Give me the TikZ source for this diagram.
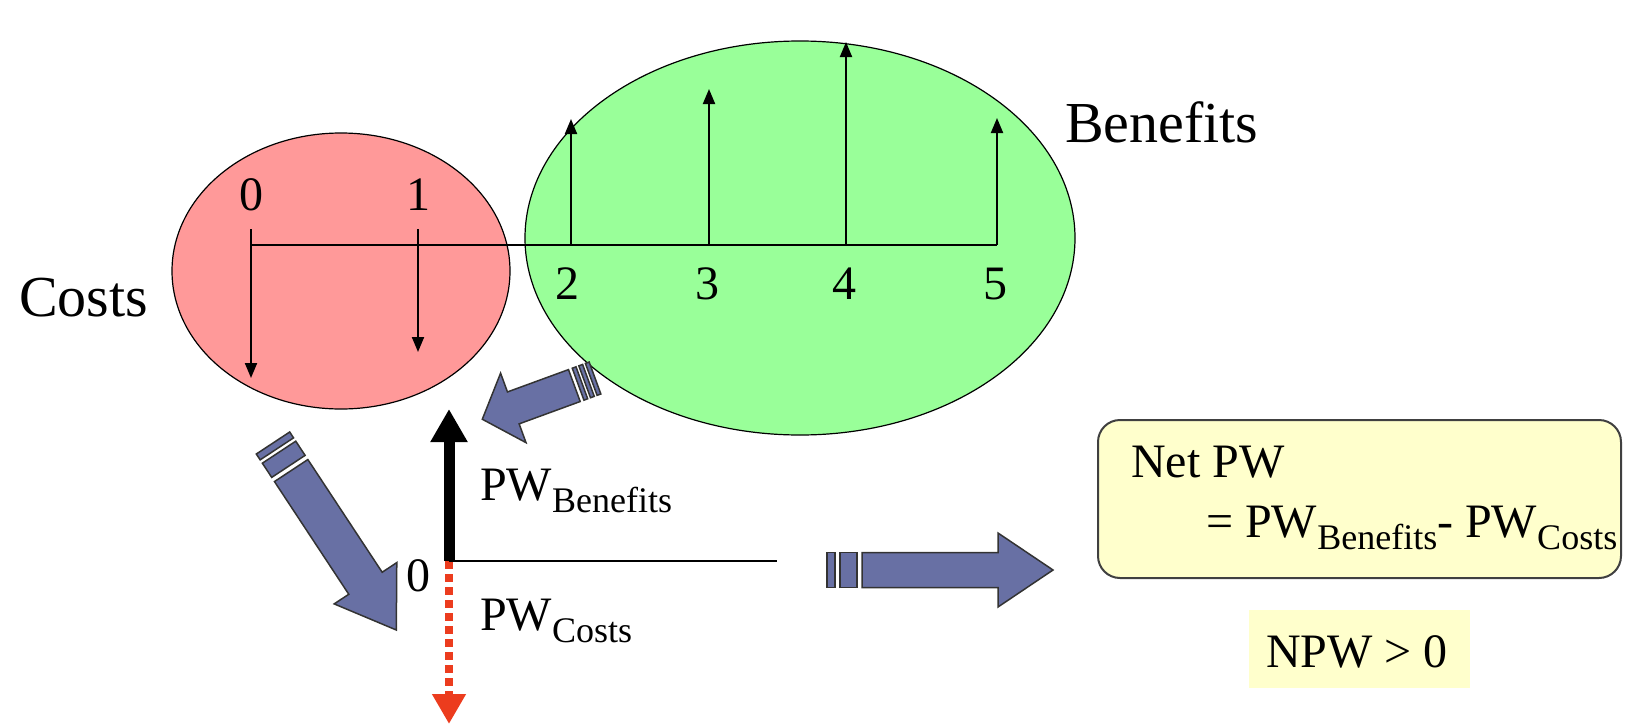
\documentclass[tikz,border=0pt]{standalone}
\usepackage{fontspec}
\setmainfont{Liberation Serif}
\newfontfamily\tnr{Liberation Serif}
\usetikzlibrary{arrows.meta,shapes.geometric}
\definecolor{costred}{RGB}{255,153,153}
\definecolor{bengreen}{RGB}{153,255,153}
\definecolor{blkblue}{RGB}{104,112,164}
\definecolor{boxyellow}{RGB}{255,255,204}
\definecolor{dashred}{RGB}{236,60,30}
\newcommand{\sz}[1]{\fontsize{#1}{#1}\selectfont}
\newcommand{\pwsub}[1]{PW\raisebox{-12pt}{\fontsize{36}{42}\selectfont #1}}
\begin{document}
\begin{tikzpicture}[x=1pt,y=-1pt,
  lbl/.style={inner sep=0pt, font={\tnr\sz{48}}},
  big/.style={inner sep=0pt, font={\tnr\sz{58}}},
  tline/.style={line width=2pt},
  cflow/.style={line width=2pt, -{Triangle[width=12pt,length=15pt]}},
  blk/.style={fill=blkblue, draw=black!80, line width=1.5pt, line join=miter},
  ell/.style={ellipse, draw, line width=1.2pt, inner sep=0pt},
]
\useasboundingbox (0,0) rectangle (1625,728);

% ellipses
\node[ell, fill=costred, minimum width=338pt, minimum height=276pt] (costell) at (341,271) {};
\node[ell, fill=bengreen, minimum width=550pt, minimum height=394pt] (benell) at (800,238) {};

% timeline coordinates
\coordinate (t0) at (251,245);
\coordinate (t1) at (418,245);
\coordinate (t2) at (571,245);
\coordinate (t3) at (709,245);
\coordinate (t4) at (846,245);
\coordinate (t5) at (997,245);
\coordinate (t0s) at (251,229);
\coordinate (t1s) at (418,229);
\coordinate (t0e) at (251,378);
\coordinate (t1e) at (418,352);
\coordinate (t2e) at (571,119);
\coordinate (t3e) at (709,89);
\coordinate (t4e) at (846,42);
\coordinate (t5e) at (997,118);

\draw[tline] (t0) -- (t5);
\draw[cflow] (t0s) -- (t0e);
\draw[cflow] (t1s) -- (t1e);
\draw[cflow] (t2) -- (t2e);
\draw[cflow] (t3) -- (t3e);
\draw[cflow] (t4) -- (t4e);
\draw[cflow] (t5) -- (t5e);

\node[lbl, anchor=base] (n0) at (251,210) {0};
\node[lbl, anchor=base] (n1) at (418,210) {1};
\node[lbl, anchor=base] (n2) at (567,299) {2};
\node[lbl, anchor=base] (n3) at (707,299) {3};
\node[lbl, anchor=base] (n4) at (844,299) {4};
\node[lbl, anchor=base] (n5) at (995,299) {5};

\node[big, anchor=base west] (costs) at (19,316) {Costs};
\node[big, anchor=base west] (benefits) at (1065,142) {Benefits};

% block arrows
\begin{scope}[shift={(595,378)}, rotate=200.1]
  \draw[blk] (0,-17) rectangle (4,17);
  \draw[blk] (7,-17) rectangle (11,17);
  \draw[blk] (14,-17) rectangle (18,17);
  \draw[blk] (22,-17) -- (87,-17) -- (87,-37) -- (120,0) -- (87,37) -- (87,17) -- (22,17) -- cycle;
\end{scope}
\begin{scope}[shift={(273,443)}, rotate=-56.6]
  \draw[blk] (0,-20) rectangle (7,20);
  \draw[blk] (11,-20) rectangle (28,20);
  \draw[blk] (33,-20) -- (168,-20) -- (168,-37.5) -- (224,0) -- (168,37.5) -- (168,20) -- (33,20) -- cycle;
\end{scope}
\begin{scope}[shift={(827,570)}]
  \draw[blk] (0,-17.5) rectangle (8,17.5);
  \draw[blk] (13,-17.5) rectangle (30,17.5);
  \draw[blk] (35,-17.5) -- (171,-17.5) -- (171,-37) -- (226,0) -- (171,37) -- (171,17.5) -- (35,17.5) -- cycle;
\end{scope}

% PW axis
\coordinate (orig) at (449,561);
\coordinate (btip) at (449,409);
\coordinate (rtip) at (449,724);
\coordinate (hend) at (777,561);
\draw[dashred, line width=8pt, dash pattern=on 8pt off 5pt, -{Triangle[width=32pt,length=30pt]}] (orig) -- (rtip);
\draw[line width=11pt, -{Triangle[width=35pt,length=33pt]}] (orig) -- (btip);
\draw[line width=2.5pt] (orig) -- (hend);
\node[lbl, anchor=base] (zero) at (418,591) {0};
\node[lbl, anchor=base west] (pwb) at (480,500) {\pwsub{Benefits}};
\node[lbl, anchor=base west] (pwc) at (480,630) {\pwsub{Costs}};

% result boxes
\node[draw=black!75, line width=2pt, rounded corners=22pt, fill=boxyellow, minimum width=523pt, minimum height=158pt, inner sep=0pt] (netbox) at (1359.5,499) {};
\node[lbl, anchor=base west] (netl1) at (1131,477) {Net PW};
\node[lbl, anchor=base west] (netl2) at (1206,537) {= \pwsub{Benefits}- \pwsub{Costs}};
\node[fill=boxyellow, minimum width=221pt, minimum height=78pt, inner sep=0pt] (npwbox) at (1359.5,649) {};
\node[lbl, anchor=base] (npw) at (1357,667) {NPW > 0};
\end{tikzpicture}
\end{document}
